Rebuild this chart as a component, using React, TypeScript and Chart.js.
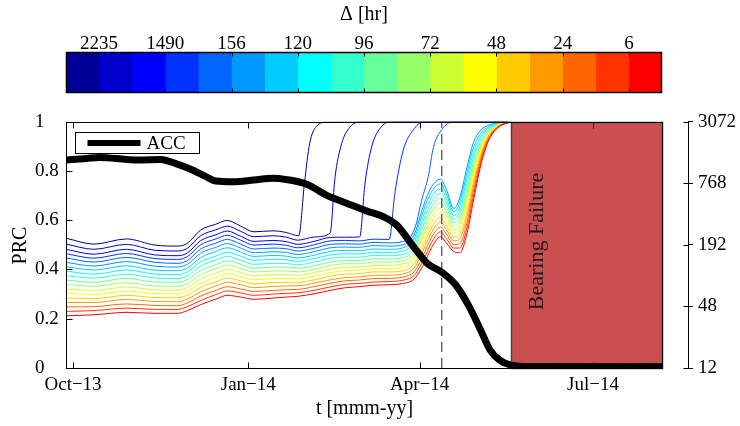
import React, { useEffect, useRef } from "react";
import { Chart, registerables } from "chart.js";

Chart.register(...registerables);

const FONT_FAMILY = "'Liberation Serif', 'Times New Roman', serif";
const FONT_SIZE = 19;
const TITLE_SIZE = 20;
const FAILURE_SIZE = 22;

// ---- colour scale (Δ, hours) ----
const DELTA_TITLE = "Δ [hr]";
const DELTA_LABELS = ["2235", "1490", "156", "120", "96", "72", "48", "24", "6"];
const DELTA_COLORS = [
  "#000099", "#0000CC", "#0000FF", "#0033FF", "#0066FF", "#0099FF",
  "#00CCFF", "#00FFFF", "#33FFCC", "#66FF99", "#99FF66", "#CCFF33",
  "#FFFF00", "#FFCC00", "#FF9900", "#FF6600", "#FF3300", "#FF0000",
];

// ---- axes (x in days since 1 Oct 2013) ----
const X_TICK_DAYS = [0, 92, 182, 273];
const X_TICK_LABELS = ["Oct−13", "Jan−14", "Apr−14", "Jul−14"];
const X_TITLE = "t [mmm-yy]";
const Y_TITLE = "PRC";
const Y_TICKS = [0, 0.2, 0.4, 0.6, 0.8, 1];
const RIGHT_TICKS = [12, 48, 192, 768, 3072];
const DAY_MIN = -3.7;
const DAY_FRAME_END = 309.2;
const DAY_MAX = 322.9;
const FAILURE_START = 230;
const FAILURE_LABEL = "Bearing Failure";
const MARKER_DAY = 193.6;
const ACC_LABEL = "ACC";

// ---- PRC curves ----
const DAYS_1 = [-3.7, 11, 28, 43, 55, 60, 67, 75, 81, 88, 95, 105, 112, 118.5, 121.5, 124.2, 127.7, 134, 230];
const DAYS_2 = [-3.7, 11, 28, 43, 55, 60, 67, 75, 81, 88, 95, 105, 112, 118, 127, 135, 137.5, 141, 145.4, 151, 230];
const DAYS_3 = [-3.7, 11, 28, 43, 55, 60, 67, 75, 81, 88, 95, 105, 112, 118, 127, 135, 143, 150.5, 153.3, 156.8, 161.2, 167, 230];
const DAYS_4 = [-3.7, 11, 28, 43, 55, 60, 67, 75, 81, 88, 95, 105, 112, 118, 127, 135, 143, 150, 158, 166, 169, 173.4, 178.6, 184, 230];
const DAYS_5 = [-3.7, 11, 28, 43, 55, 60, 67, 75, 81, 88, 95, 105, 112, 118, 127, 135, 143, 150, 158, 166, 173, 177, 180, 183, 186.5, 189.2, 194.4, 200, 230];
const BUNDLE_DAYS = [-3.7, 11, 28, 43, 55, 60, 67, 75, 81, 88, 95, 105, 112, 118, 127, 135, 143, 150, 158, 166, 173, 179, 183, 186, 189, 193, 196, 200, 203, 207, 210, 214, 218, 223, 230];

const PRC_1 = [0.527, 0.503, 0.524, 0.499, 0.495, 0.506, 0.560, 0.584, 0.599, 0.576, 0.553, 0.557, 0.550, 0.537, 0.75, 0.91, 0.98, 1.0, 1.0];
const PRC_2 = [0.503, 0.482, 0.502, 0.478, 0.475, 0.486, 0.537, 0.561, 0.576, 0.555, 0.533, 0.537, 0.531, 0.519, 0.532, 0.548, 0.77, 0.91, 0.978, 1.0, 1.0];
const PRC_3 = [0.482, 0.462, 0.482, 0.459, 0.456, 0.467, 0.517, 0.541, 0.556, 0.535, 0.514, 0.518, 0.513, 0.502, 0.515, 0.530, 0.531, 0.532, 0.75, 0.898, 0.973, 1.0, 1.0];
const PRC_4 = [0.464, 0.446, 0.465, 0.444, 0.441, 0.452, 0.500, 0.524, 0.539, 0.519, 0.499, 0.503, 0.498, 0.488, 0.501, 0.516, 0.518, 0.516, 0.523, 0.522, 0.71, 0.885, 0.966, 1.0, 1.0];
const PRC_5 = [0.447, 0.430, 0.449, 0.429, 0.425, 0.436, 0.483, 0.507, 0.522, 0.503, 0.483, 0.487, 0.484, 0.475, 0.487, 0.502, 0.504, 0.503, 0.510, 0.508, 0.513, 0.53, 0.58, 0.68, 0.777, 0.895, 0.975, 1.0, 1.0];
const PRC_6 = [0.429, 0.414, 0.432, 0.413, 0.410, 0.421, 0.466, 0.490, 0.505, 0.487, 0.468, 0.472, 0.469, 0.461, 0.473, 0.488, 0.491, 0.490, 0.497, 0.495, 0.500, 0.540, 0.635, 0.700, 0.745, 0.767, 0.725, 0.648, 0.690, 0.820, 0.910, 0.965, 0.985, 0.995, 1.0];
const PRC_7 = [0.411, 0.398, 0.415, 0.397, 0.395, 0.406, 0.448, 0.473, 0.488, 0.471, 0.453, 0.457, 0.454, 0.447, 0.459, 0.473, 0.478, 0.476, 0.483, 0.482, 0.487, 0.525, 0.616, 0.680, 0.725, 0.748, 0.707, 0.634, 0.672, 0.798, 0.890, 0.953, 0.979, 0.994, 1.0];
const PRC_8 = [0.393, 0.381, 0.398, 0.381, 0.379, 0.390, 0.431, 0.455, 0.470, 0.454, 0.437, 0.441, 0.439, 0.433, 0.445, 0.459, 0.464, 0.463, 0.470, 0.469, 0.474, 0.510, 0.597, 0.659, 0.704, 0.728, 0.689, 0.619, 0.653, 0.775, 0.870, 0.941, 0.974, 0.992, 1.0];
const PRC_9 = [0.375, 0.365, 0.381, 0.365, 0.363, 0.374, 0.414, 0.438, 0.453, 0.437, 0.421, 0.425, 0.424, 0.419, 0.431, 0.445, 0.450, 0.450, 0.457, 0.456, 0.461, 0.495, 0.578, 0.638, 0.684, 0.709, 0.671, 0.604, 0.635, 0.753, 0.850, 0.929, 0.969, 0.990, 1.0];
const PRC_10 = [0.357, 0.348, 0.364, 0.349, 0.348, 0.359, 0.396, 0.420, 0.435, 0.421, 0.405, 0.410, 0.409, 0.405, 0.416, 0.430, 0.436, 0.436, 0.443, 0.443, 0.448, 0.480, 0.559, 0.618, 0.663, 0.689, 0.653, 0.590, 0.616, 0.730, 0.830, 0.917, 0.963, 0.989, 1.0];
const PRC_11 = [0.339, 0.332, 0.346, 0.333, 0.332, 0.343, 0.379, 0.403, 0.418, 0.404, 0.390, 0.394, 0.394, 0.390, 0.402, 0.416, 0.423, 0.423, 0.430, 0.430, 0.435, 0.465, 0.539, 0.597, 0.643, 0.670, 0.635, 0.575, 0.598, 0.708, 0.810, 0.905, 0.958, 0.987, 1.0];
const PRC_12 = [0.321, 0.315, 0.329, 0.317, 0.316, 0.327, 0.361, 0.385, 0.400, 0.388, 0.374, 0.378, 0.379, 0.376, 0.388, 0.401, 0.409, 0.410, 0.416, 0.417, 0.422, 0.450, 0.520, 0.576, 0.622, 0.650, 0.617, 0.560, 0.579, 0.685, 0.790, 0.893, 0.952, 0.985, 1.0];
const PRC_13 = [0.303, 0.299, 0.312, 0.302, 0.301, 0.312, 0.344, 0.368, 0.383, 0.371, 0.358, 0.363, 0.364, 0.362, 0.374, 0.387, 0.395, 0.397, 0.403, 0.404, 0.409, 0.435, 0.501, 0.556, 0.602, 0.631, 0.599, 0.546, 0.561, 0.663, 0.770, 0.881, 0.947, 0.984, 1.0];
const PRC_14 = [0.284, 0.282, 0.295, 0.286, 0.285, 0.296, 0.327, 0.350, 0.365, 0.354, 0.342, 0.347, 0.348, 0.348, 0.359, 0.373, 0.381, 0.383, 0.390, 0.390, 0.395, 0.420, 0.482, 0.535, 0.581, 0.611, 0.580, 0.531, 0.542, 0.640, 0.750, 0.868, 0.942, 0.982, 1.0];
const PRC_15 = [0.266, 0.266, 0.278, 0.270, 0.269, 0.280, 0.309, 0.333, 0.348, 0.338, 0.326, 0.331, 0.333, 0.334, 0.345, 0.358, 0.367, 0.370, 0.376, 0.377, 0.382, 0.405, 0.463, 0.514, 0.561, 0.592, 0.562, 0.516, 0.524, 0.618, 0.730, 0.856, 0.936, 0.980, 1.0];
const PRC_16 = [0.248, 0.249, 0.260, 0.254, 0.253, 0.264, 0.292, 0.315, 0.330, 0.321, 0.311, 0.315, 0.318, 0.319, 0.331, 0.344, 0.354, 0.357, 0.363, 0.364, 0.369, 0.390, 0.443, 0.493, 0.540, 0.572, 0.544, 0.501, 0.505, 0.595, 0.710, 0.844, 0.931, 0.978, 1.0];
const PRC_17 = [0.230, 0.233, 0.243, 0.238, 0.238, 0.249, 0.274, 0.298, 0.313, 0.305, 0.295, 0.300, 0.303, 0.305, 0.316, 0.329, 0.340, 0.343, 0.349, 0.351, 0.356, 0.375, 0.424, 0.473, 0.520, 0.553, 0.526, 0.487, 0.487, 0.573, 0.690, 0.832, 0.925, 0.977, 1.0];
const PRC_18 = [0.212, 0.216, 0.226, 0.222, 0.222, 0.233, 0.257, 0.280, 0.295, 0.288, 0.279, 0.284, 0.288, 0.291, 0.302, 0.315, 0.326, 0.330, 0.336, 0.338, 0.343, 0.360, 0.405, 0.452, 0.499, 0.533, 0.508, 0.472, 0.468, 0.550, 0.670, 0.820, 0.920, 0.975, 1.0];

const PRC_DAYS = [DAYS_1, DAYS_2, DAYS_3, DAYS_4, DAYS_5];
const PRC_VALUES = [PRC_1, PRC_2, PRC_3, PRC_4, PRC_5, PRC_6, PRC_7, PRC_8, PRC_9, PRC_10, PRC_11, PRC_12, PRC_13, PRC_14, PRC_15, PRC_16, PRC_17, PRC_18];

// ---- ACC curve ----
const ACC_DAYS = [-3.7, 7, 14, 28, 35, 46, 54, 63, 70, 75, 84, 95, 105, 112, 123, 133, 144, 154, 163, 170, 179, 186, 194, 201, 208, 214, 219, 224, 230, 240, 309.2];
const ACC_VALUES = [0.844, 0.851, 0.855, 0.847, 0.844, 0.847, 0.830, 0.803, 0.776, 0.759, 0.756, 0.763, 0.770, 0.765, 0.745, 0.702, 0.668, 0.638, 0.614, 0.580, 0.490, 0.425, 0.387, 0.337, 0.249, 0.154, 0.073, 0.032, 0.012, 0.006, 0.005];

const FAILURE_COLOR = "#C94F50";
const font = (size = FONT_SIZE) => ({ family: FONT_FAMILY, size, weight: "normal" as const });

const colorbarPlugin = {
  id: "colorbarFrame",
  afterDatasetsDraw(chart: any) {
    const { ctx, chartArea, scales } = chart;
    const x = scales.x;
    ctx.save();
    ctx.strokeStyle = "#000";
    ctx.lineWidth = 1;
    const l = Math.round(chartArea.left) + 0.5;
    const r = Math.round(chartArea.right) - 0.5;
    const t = Math.round(chartArea.top) + 0.5;
    const b = Math.round(chartArea.bottom) - 0.5;
    ctx.lineWidth = 1.5;
    ctx.strokeRect(l, t, r - l, b - t);
    ctx.lineWidth = 1;
    ctx.beginPath();
    DELTA_LABELS.forEach((_, i) => {
      const px = Math.round(x.getPixelForValue(2 * i + 1)) + 0.5;
      ctx.moveTo(px, t);
      ctx.lineTo(px, t + 4);
      ctx.moveTo(px, b);
      ctx.lineTo(px, b - 4);
    });
    ctx.stroke();
    ctx.restore();
  },
};

const mainPlugin = {
  id: "mainDecor",
  beforeDatasetsDraw(chart: any) {
    const { ctx, scales } = chart;
    const x = scales.x;
    const y = scales.y;
    const left = Math.round(x.getPixelForValue(FAILURE_START)) + 0.5;
    const right = Math.round(x.getPixelForValue(DAY_FRAME_END)) + 0.5;
    const top = Math.round(y.getPixelForValue(1)) + 0.5;
    const bottom = Math.round(y.getPixelForValue(0)) + 0.5;
    ctx.save();
    ctx.fillStyle = FAILURE_COLOR;
    ctx.fillRect(left, top, right - left, bottom - top);
    ctx.strokeStyle = "#444";
    ctx.lineWidth = 1.5;
    ctx.strokeRect(left, top, right - left, bottom - top);
    ctx.translate(left + 26, (top + bottom) / 2 - 4);
    ctx.rotate(-Math.PI / 2);
    ctx.fillStyle = "#1a1a1a";
    ctx.font = `${FAILURE_SIZE}px ${FONT_FAMILY}`;
    ctx.textAlign = "center";
    ctx.textBaseline = "middle";
    ctx.fillText(FAILURE_LABEL, 0, 0);
    ctx.restore();
  },
  afterDatasetsDraw(chart: any) {
    const { ctx, chartArea, scales } = chart;
    const x = scales.x;
    const y = scales.y;
    const y1 = scales.y1;
    const l = Math.round(chartArea.left) + 0.5;
    const r = Math.round(x.getPixelForValue(DAY_FRAME_END)) + 0.5;
    const t = Math.round(y.getPixelForValue(1)) + 0.5;
    const b = Math.round(y.getPixelForValue(0)) + 0.5;
    ctx.save();
    ctx.strokeStyle = "#000";
    ctx.lineWidth = 1;
    ctx.strokeRect(l, t, r - l, b - t);
    ctx.beginPath();
    X_TICK_DAYS.forEach((d) => {
      const px = Math.round(x.getPixelForValue(d)) + 0.5;
      ctx.moveTo(px, b);
      ctx.lineTo(px, b - 6);
      ctx.moveTo(px, t);
      ctx.lineTo(px, t + 6);
    });
    Y_TICKS.forEach((v) => {
      const py = Math.round(y.getPixelForValue(v)) + 0.5;
      ctx.moveTo(l, py);
      ctx.lineTo(l + 6, py);
    });
    const ra = Math.round(chartArea.right) + 0.5;
    RIGHT_TICKS.forEach((v) => {
      const py = Math.round(y1.getPixelForValue(v)) + 0.5;
      ctx.moveTo(ra - 5, py);
      ctx.lineTo(ra, py);
    });
    ctx.stroke();

    // legend
    const lx = l + 9;
    const ly = t + 10;
    ctx.fillStyle = "#fff";
    ctx.fillRect(lx, ly, 124, 21);
    ctx.strokeRect(lx, ly, 124, 21);
    ctx.beginPath();
    ctx.lineWidth = 6;
    ctx.moveTo(lx + 12, ly + 10.5);
    ctx.lineTo(lx + 65, ly + 10.5);
    ctx.stroke();
    ctx.fillStyle = "#000";
    ctx.font = `${FONT_SIZE}px ${FONT_FAMILY}`;
    ctx.textAlign = "left";
    ctx.textBaseline = "middle";
    ctx.fillText(ACC_LABEL, lx + 71, ly + 11.5);

    // axis titles
    ctx.font = `${TITLE_SIZE}px ${FONT_FAMILY}`;
    ctx.textAlign = "center";
    ctx.fillText(X_TITLE, (l + r) / 2, 309);
    ctx.translate(21, (t + b) / 2);
    ctx.rotate(-Math.PI / 2);
    ctx.fillText(Y_TITLE, 0, 0);
    ctx.restore();
  },
};

export default function App() {
  const barRef = useRef<HTMLCanvasElement>(null);
  const mainRef = useRef<HTMLCanvasElement>(null);

  useEffect(() => {
    Chart.defaults.font.family = FONT_FAMILY;
    Chart.defaults.color = "#000";

    const colorbar = new Chart(barRef.current as HTMLCanvasElement, {
      type: "bar",
      data: {
        labels: [""],
        datasets: DELTA_COLORS.map((c) => ({
          data: [1],
          backgroundColor: c,
          borderWidth: 0,
          barPercentage: 1,
          categoryPercentage: 1,
          stack: "cb",
        })),
      },
      options: {
        responsive: false,
        animation: false,
        devicePixelRatio: 1,
        indexAxis: "y",
        events: [],
        layout: { padding: { left: 66, right: 78, top: 0, bottom: 7 } },
        plugins: {
          legend: { display: false },
          tooltip: { enabled: false },
          title: {
            display: true,
            text: DELTA_TITLE,
            color: "#000",
            font: font(TITLE_SIZE),
            padding: { top: 3, bottom: 0 },
          },
        },
        scales: {
          x: {
            type: "linear",
            position: "top",
            min: 0,
            max: DELTA_COLORS.length,
            stacked: true,
            grid: { display: false, drawTicks: false },
            border: { display: false },
            afterBuildTicks: (s: any) => {
              s.ticks = DELTA_LABELS.map((_, i) => ({ value: 2 * i + 1 }));
            },
            afterFit: (s: any) => {
              s.height = 25;
            },
            ticks: {
              autoSkip: false,
              maxRotation: 0,
              padding: -3,
              color: "#000",
              font: font(),
              callback: (_v: any, i: number) => DELTA_LABELS[i] ?? "",
            },
          },
          y: { display: false, stacked: true },
        },
      } as any,
      plugins: [colorbarPlugin],
    });

    const prcSets = PRC_VALUES.map((vals, k) => {
      const days = k < PRC_DAYS.length ? PRC_DAYS[k] : BUNDLE_DAYS;
      return {
        data: days.map((d, i) => ({ x: d, y: vals[i] })),
        borderColor: DELTA_COLORS[k],
        borderWidth: 1,
        pointRadius: 0,
        cubicInterpolationMode: "monotone",
        yAxisID: "y",
        order: 2 + (PRC_VALUES.length - k),
      };
    });

    const main = new Chart(mainRef.current as HTMLCanvasElement, {
      type: "line",
      data: {
        datasets: [
          {
            label: ACC_LABEL,
            data: ACC_DAYS.map((d, i) => ({ x: d, y: ACC_VALUES[i] })),
            borderColor: "#000",
            borderWidth: 7,
            pointRadius: 0,
            cubicInterpolationMode: "monotone",
            yAxisID: "y",
            order: 0,
          },
          {
            data: [
              { x: MARKER_DAY, y: 0 },
              { x: MARKER_DAY, y: 1 },
            ],
            borderColor: "#444",
            borderWidth: 1.2,
            borderDash: [10, 6],
            pointRadius: 0,
            yAxisID: "y",
            order: 1,
          },
          ...prcSets,
        ],
      },
      options: {
        responsive: false,
        animation: false,
        devicePixelRatio: 1,
        events: [],
        layout: { padding: { left: 35, right: 0, top: 21.7, bottom: 0 } },
        plugins: { legend: { display: false }, tooltip: { enabled: false } },
        scales: {
          x: {
            type: "linear",
            min: DAY_MIN,
            max: DAY_MAX,
            grid: { display: false, drawTicks: false },
            border: { display: false },
            afterBuildTicks: (s: any) => {
              s.ticks = X_TICK_DAYS.map((v) => ({ value: v }));
            },
            afterFit: (s: any) => {
              s.height = 58;
            },
            ticks: {
              autoSkip: false,
              maxRotation: 0,
              padding: 6,
              color: "#000",
              font: font(),
              callback: (_v: any, i: number) => X_TICK_LABELS[i] ?? "",
            },
          },
          y: {
            type: "linear",
            position: "left",
            min: 0,
            max: 1,
            grid: { display: false, drawTicks: false },
            border: { display: false },
            afterBuildTicks: (s: any) => {
              s.ticks = Y_TICKS.map((v) => ({ value: v }));
            },
            afterFit: (s: any) => {
              s.width = 31;
            },
            ticks: {
              crossAlign: "far",
              padding: 0,
              color: "#000",
              font: font(),
              callback: (v: any) => String(v),
            },
          },
          y1: {
            type: "logarithmic",
            position: "right",
            min: 12,
            max: 3072,
            grid: { drawOnChartArea: false, drawTicks: true, tickLength: 5, color: "#000", lineWidth: 1 },
            border: { display: true, color: "#000", width: 1 },
            afterBuildTicks: (s: any) => {
              s.ticks = RIGHT_TICKS.map((v) => ({ value: v }));
            },
            afterFit: (s: any) => {
              s.width = 52;
            },
            ticks: {
              padding: 5,
              color: "#000",
              font: font(),
              callback: (v: any) => String(v),
            },
          },
        },
      } as any,
      plugins: [mainPlugin],
    });

    return () => {
      colorbar.destroy();
      main.destroy();
    };
  }, []);

  return (
    <div style={{ position: "absolute", left: 0, top: 0, width: 740, height: 426, background: "#fff" }}>
      <canvas
        ref={barRef}
        width={740}
        height={100}
        style={{ position: "absolute", left: 0, top: 0, width: 740, height: 100 }}
      />
      <canvas
        ref={mainRef}
        width={740}
        height={326}
        style={{ position: "absolute", left: 0, top: 100, width: 740, height: 326 }}
      />
    </div>
  );
}
